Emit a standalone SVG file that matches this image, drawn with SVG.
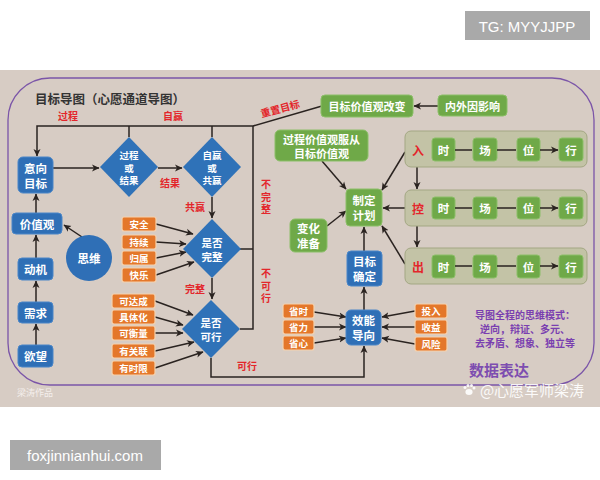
<svg xmlns="http://www.w3.org/2000/svg" width="600" height="480" viewBox="0 0 600 480">
<defs>
<marker id="ah" markerWidth="8" markerHeight="8" refX="7" refY="4" orient="auto" markerUnits="userSpaceOnUse">
<path d="M0,0.5 L7.5,4 L0,7.5 L2,4 Z" fill="#2a2320"/>
</marker>
<style>
text{font-family:"Noto Sans CJK SC","Noto Sans",sans-serif;text-anchor:middle;dominant-baseline:central}
.blue{fill:#2f6fb6;stroke:#4a86c8;stroke-width:1}
.dia{fill:#2f72b8}
.green{fill:#6fa948;stroke:#8cbf68;stroke-width:1}
.orange{fill:#e4772a;stroke:#f5d2ae;stroke-width:1.2}
.grp{fill:#c3c3a6;stroke:#a3a783;stroke-width:1}
.wt{fill:#fff;font-weight:bold;font-size:11.5px}
.wd{fill:#fff;font-weight:bold;font-size:9.5px}
.wo{fill:#fff;font-weight:bold;font-size:9.5px}
.red{fill:#e3262b;font-weight:bold;font-size:10px}
.vert{writing-mode:vertical-rl;letter-spacing:2.5px}
.pur{fill:#7a3fb0;font-weight:bold;font-size:10px}
.ln{fill:none;stroke:#2a2320;stroke-width:1.5}
.ar{fill:none;stroke:#2a2320;stroke-width:1.5;marker-end:url(#ah)}
</style>
</defs>
<rect x="0" y="0" width="600" height="480" fill="#fff"/>
<g id="tg"><rect x="465" y="11" width="125" height="29" fill="#a9a9a9"/><text x="527" y="26" style="fill:#fff;font-family:'Liberation Sans',sans-serif;font-size:15px">TG: MYYJJPP</text></g>
<g id="site"><rect x="10" y="440" width="151" height="30" fill="#a9a9a9"/><text x="85" y="455" style="fill:#fff;font-family:'Liberation Sans',sans-serif;font-size:15px">foxjinnianhui.com</text></g>
<rect x="0" y="70" width="600" height="337" fill="#d7ccc4"/>
<rect x="8" y="78" width="586" height="307" rx="42" ry="42" fill="none" stroke="#7b55a8" stroke-width="1.3"/>
<text x="110" y="98" style="fill:#333;font-size:12.5px;font-weight:bold">目标导图（心愿通道导图）</text>

<g id="connectors">
<path class="ar" d="M322,106 L253,126 L37,126 L37,156"/>
<path class="ln" d="M129,137 V126 M212,137 V126"/>
<path class="ln" d="M240,249 H253 V126 M240,329 H253 V249"/>
<path class="ar" d="M53,168 H99"/>
<path class="ar" d="M158,168 H182"/>
<path class="ar" d="M212,197 V218"/>
<path class="ar" d="M212,278 V299"/>
<path class="ar" d="M211,358 V377 H364 V346"/>
<path class="ar" d="M36,345 V324"/>
<path class="ar" d="M36,302 V281"/>
<path class="ar" d="M36,258 V235"/>
<path class="ar" d="M36,213 V194"/>
<path class="ar" d="M82,237 L64,225"/>
<path class="ar" d="M156,224 L193,234"/>
<path class="ar" d="M156,242 L186,244"/>
<path class="ar" d="M156,258 L186,252"/>
<path class="ar" d="M156,275 L194,262"/>
<path class="ar" d="M155,301 L193,315"/>
<path class="ar" d="M155,317 L183,325"/>
<path class="ar" d="M155,333 L183,333"/>
<path class="ar" d="M155,351 L194,342"/>
<path class="ar" d="M155,368 L203,352"/>
<path class="ar" d="M438,106 H414"/>
<path class="ar" d="M322,161 L346,189"/>
<path class="ar" d="M327,226 L346,211"/>
<path class="ar" d="M364,251 V227"/>
<path class="ar" d="M364,310 V287"/>
<path class="ar" d="M405,152 L382,190"/>
<path class="ar" d="M405,208 H383"/>
<path class="ar" d="M405,264 L382,226"/>
<path class="ar" d="M417,167 V189"/>
<path class="ar" d="M417,226 V247"/>
<path class="ar" d="M314,312 L346,317"/>
<path class="ar" d="M314,327 H346"/>
<path class="ar" d="M314,343 L346,338"/>
<path class="ar" d="M415,311 L382,317"/>
<path class="ar" d="M415,327 H382"/>
<path class="ar" d="M415,344 L382,338"/>
</g>

<g id="labels">
<text class="red" x="68" y="115">过程</text>
<text class="red" x="173" y="115">自赢</text>
<text class="red" x="170" y="182">结果</text>
<text class="red" x="195" y="206">共赢</text>
<text class="red" x="195" y="288">完整</text>
<text class="red" x="247" y="365">可行</text>
<text class="red" x="280" y="108" transform="rotate(-15 280 108)">重置目标</text>
<text class="red vert" x="266" y="198">不完整</text>
<text class="red vert" x="266" y="287">不可行</text>
</g>

<g id="n-yixiang"><rect class="blue" x="18" y="157" width="35" height="36" rx="5"/><text class="wt" x="35.5" y="167.5">意向</text><text class="wt" x="35.5" y="182.5">目标</text></g>
<g id="n-jiazhiguan"><rect class="blue" x="12" y="213" width="50" height="21" rx="4"/><text class="wt" x="37" y="223.5">价值观</text></g>
<g id="n-dongji"><rect class="blue" x="18" y="258" width="35" height="22" rx="4"/><text class="wt" x="35.5" y="269">动机</text></g>
<g id="n-xuqiu"><rect class="blue" x="18" y="302" width="35" height="21" rx="4"/><text class="wt" x="35.5" y="312.5">需求</text></g>
<g id="n-yuwang"><rect class="blue" x="18" y="345" width="35" height="22" rx="4"/><text class="wt" x="35.5" y="356">欲望</text></g>
<g id="n-siwei"><circle cx="89" cy="258" r="23" fill="#2f6fb6"/><text class="wt" x="89" y="258">思维</text></g>

<g id="d-guocheng"><polygon class="dia" points="129,137 158,167 129,197 100,167"/><text class="wd" x="129" y="155">过程</text><text class="wd" x="129" y="167.5">或</text><text class="wd" x="129" y="180">结果</text></g>
<g id="d-ziying"><polygon class="dia" points="212,137 241,167 212,197 183,167"/><text class="wd" x="212" y="155">自赢</text><text class="wd" x="212" y="167.5">或</text><text class="wd" x="212" y="180">共赢</text></g>
<g id="d-wanzheng"><polygon class="dia" points="212,219 241,249 212,278 183,249"/><text class="wt" x="212" y="242" style="font-size:10.5px">是否</text><text class="wt" x="212" y="256" style="font-size:10.5px">完整</text></g>
<g id="d-kexing"><polygon class="dia" points="211,300 240,329 211,358 182,329"/><text class="wt" x="211" y="322" style="font-size:10.5px">是否</text><text class="wt" x="211" y="336" style="font-size:10.5px">可行</text></g>

<g id="o-anquan"><rect class="orange" x="122" y="217" width="34" height="14" rx="2"/><text class="wo" x="139" y="224">安全</text></g>
<g id="o-chixu"><rect class="orange" x="122" y="235" width="34" height="14" rx="2"/><text class="wo" x="139" y="242">持续</text></g>
<g id="o-guishu"><rect class="orange" x="122" y="251" width="34" height="14" rx="2"/><text class="wo" x="139" y="258">归属</text></g>
<g id="o-kuaile"><rect class="orange" x="122" y="268" width="34" height="14" rx="2"/><text class="wo" x="139" y="275">快乐</text></g>
<g id="o-kedacheng"><rect class="orange" x="112" y="294" width="43" height="14" rx="2"/><text class="wo" x="133.5" y="301">可达成</text></g>
<g id="o-jutihua"><rect class="orange" x="112" y="310" width="43" height="14" rx="2"/><text class="wo" x="133.5" y="317">具体化</text></g>
<g id="o-kehengliang"><rect class="orange" x="112" y="326" width="43" height="14" rx="2"/><text class="wo" x="133.5" y="333">可衡量</text></g>
<g id="o-youguanlian"><rect class="orange" x="112" y="344" width="43" height="14" rx="2"/><text class="wo" x="133.5" y="351">有关联</text></g>
<g id="o-youshixian"><rect class="orange" x="112" y="361" width="43" height="14" rx="2"/><text class="wo" x="133.5" y="368">有时限</text></g>

<g id="n-gaibian"><rect class="green" x="321" y="95" width="92" height="22" rx="4"/><text class="wt" x="367" y="106" style="font-size:11px">目标价值观改变</text></g>
<g id="n-neiwai"><rect class="green" x="438" y="95" width="69" height="21" rx="4"/><text class="wt" x="472.5" y="105.5" style="font-size:11px">内外因影响</text></g>
<g id="n-fucong"><rect class="green" x="275" y="130" width="93" height="31" rx="5"/><text class="wt" x="321.5" y="138.5" style="font-size:11px">过程价值观服从</text><text class="wt" x="321.5" y="153" style="font-size:11px">目标价值观</text></g>
<g id="n-zhiding"><rect class="green" x="346" y="189" width="36" height="37" rx="4"/><text class="wt" x="364" y="200">制定</text><text class="wt" x="364" y="215">计划</text></g>
<g id="n-bianhua"><rect class="green" x="290" y="219" width="37" height="33" rx="5"/><text class="wt" x="308.5" y="228">变化</text><text class="wt" x="308.5" y="243">准备</text></g>
<g id="n-queding"><rect class="blue" x="347" y="251" width="35" height="35" rx="4"/><text class="wt" x="364.5" y="261">目标</text><text class="wt" x="364.5" y="276">确定</text></g>
<g id="n-xiaoneng"><rect class="blue" x="346" y="310" width="35" height="35" rx="5"/><text class="wt" x="363.5" y="320">效能</text><text class="wt" x="363.5" y="335">导向</text></g>

<g id="o-shengshi"><rect class="orange" x="283" y="304" width="31" height="14" rx="2"/><text class="wo" x="298.5" y="311">省时</text></g>
<g id="o-shengli"><rect class="orange" x="283" y="320" width="31" height="14" rx="2"/><text class="wo" x="298.5" y="327">省力</text></g>
<g id="o-shengxin"><rect class="orange" x="283" y="336" width="31" height="14" rx="2"/><text class="wo" x="298.5" y="343">省心</text></g>
<g id="o-touru"><rect class="orange" x="415" y="304" width="32" height="14" rx="2"/><text class="wo" x="431" y="311">投入</text></g>
<g id="o-shouyi"><rect class="orange" x="415" y="320" width="32" height="14" rx="2"/><text class="wo" x="431" y="327">收益</text></g>
<g id="o-fengxian"><rect class="orange" x="415" y="337" width="32" height="14" rx="2"/><text class="wo" x="431" y="344">风险</text></g>

<g id="g-ru"><rect class="grp" x="405" y="131" width="182" height="36" rx="6"/><text class="red" x="418" y="150" style="font-size:12px">入</text>
<rect class="green" x="432" y="138" width="23" height="23" rx="3"/><text class="wt" x="443.5" y="149.5">时</text>
<rect class="green" x="473" y="138" width="24" height="23" rx="3"/><text class="wt" x="485" y="149.5">场</text>
<rect class="green" x="517" y="138" width="23" height="23" rx="3"/><text class="wt" x="528.5" y="149.5">位</text>
<rect class="green" x="559" y="138" width="24" height="23" rx="3"/><text class="wt" x="571" y="149.5">行</text></g>
<g id="g-kong"><rect class="grp" x="405" y="190" width="182" height="36" rx="6"/><text class="red" x="418" y="208" style="font-size:12px">控</text>
<rect class="green" x="432" y="197" width="23" height="22" rx="3"/><text class="wt" x="443.5" y="208">时</text>
<rect class="green" x="473" y="197" width="24" height="22" rx="3"/><text class="wt" x="485" y="208">场</text>
<rect class="green" x="517" y="197" width="23" height="22" rx="3"/><text class="wt" x="528.5" y="208">位</text>
<rect class="green" x="559" y="197" width="24" height="22" rx="3"/><text class="wt" x="571" y="208">行</text></g>
<g id="g-chu"><rect class="grp" x="405" y="248" width="182" height="36" rx="6"/><text class="red" x="418" y="266" style="font-size:12px">出</text>
<rect class="green" x="432" y="255" width="23" height="23" rx="3"/><text class="wt" x="443.5" y="266.5">时</text>
<rect class="green" x="473" y="255" width="24" height="23" rx="3"/><text class="wt" x="485" y="266.5">场</text>
<rect class="green" x="517" y="255" width="23" height="23" rx="3"/><text class="wt" x="528.5" y="266.5">位</text>
<rect class="green" x="559" y="255" width="24" height="23" rx="3"/><text class="wt" x="571" y="266.5">行</text></g>

<g id="row-connectors">
<path class="ar" d="M455,150 H472 M497,150 H516 M540,150 H558"/>
<path class="ar" d="M455,208 H472 M497,208 H516 M540,208 H558"/>
<path class="ar" d="M455,266 H472 M497,266 H516 M540,266 H558"/>
</g>

<g id="notes">
<text class="pur" x="525" y="314">导图全程的思维模式：</text>
<text class="pur" x="525" y="328">逆向，辩证、多元、</text>
<text class="pur" x="525" y="342">去矛盾、想象、独立等</text>
<text x="499" y="369" style="fill:#7d4db0;font-weight:bold;font-size:15px">数据表达</text>
<text x="35" y="392" style="fill:#f4efec;font-size:9px">梁涛作品</text>
<g fill="#fff" opacity="0.9"><ellipse cx="469" cy="392" rx="3.6" ry="3"/><circle cx="465" cy="387.5" r="1.5"/><circle cx="468" cy="385.5" r="1.5"/><circle cx="471.5" cy="385.5" r="1.5"/><circle cx="474" cy="388" r="1.5"/></g>
<text x="532" y="389" style="fill:#fff;opacity:0.9;font-size:15px">@心愿军师梁涛</text>
</g>
</svg>
